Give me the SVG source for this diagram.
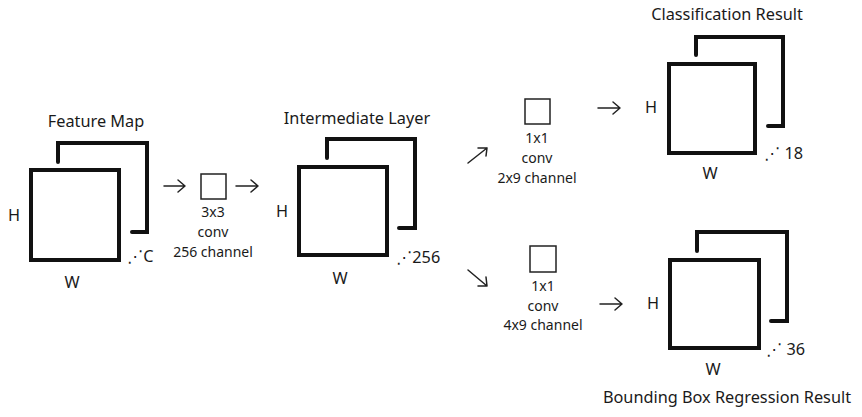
<svg xmlns="http://www.w3.org/2000/svg" width="862" height="417" viewBox="0 0 862 417">
<style>
text{font-family:"Noto Sans","DejaVu Sans",sans-serif;fill:#1a1a1a}
.t{font-size:16.3px}
.s{font-size:14px}
.c{text-anchor:middle}
.big{fill:none;stroke:#111;stroke-width:4;stroke-linejoin:miter;stroke-linecap:round}
.sm{fill:#fff;stroke:#222;stroke-width:1.5}
.ar{fill:none;stroke:#222;stroke-width:1.5;stroke-linecap:round;stroke-linejoin:round}
</style>
<rect width="862" height="417" fill="#fff"/>
<g id="feature-map">
<path class="big" d="M58,162V143H147V232H132"/>
<rect class="big" x="31" y="170" width="88" height="90"/>
<text class="t c" x="96" y="127">Feature Map</text>
<text class="t" x="8" y="221">H</text>
<text class="t c" x="72" y="288">W</text>
<text class="t" x="127" y="262">⋰C</text>
</g>
<g id="conv3x3">
<rect class="sm" x="201" y="174" width="25" height="25"/>
<text class="s c" x="213" y="217">3x3</text>
<text class="s c" x="213" y="237">conv</text>
<text class="s c" x="213" y="257">256 channel</text>
</g>
<g id="intermediate-layer">
<path class="big" d="M327,158V139H415V228H399"/>
<rect class="big" x="299" y="167" width="88" height="88"/>
<text class="t c" x="357" y="124">Intermediate Layer</text>
<text class="t" x="276" y="217">H</text>
<text class="t c" x="340" y="284">W</text>
<text class="t" x="396" y="263">⋰256</text>
</g>
<g id="conv1x1-cls">
<rect class="sm" x="525" y="99" width="25" height="25"/>
<text class="s c" x="537" y="143">1x1</text>
<text class="s c" x="537" y="163">conv</text>
<text class="s c" x="537" y="183">2x9 channel</text>
</g>
<g id="conv1x1-reg">
<rect class="sm" x="530" y="246" width="26" height="26"/>
<text class="s c" x="543" y="291">1x1</text>
<text class="s c" x="543" y="311">conv</text>
<text class="s c" x="543" y="330">4x9 channel</text>
</g>
<g id="classification-result">
<path class="big" d="M696,55V37H783V126H768"/>
<rect class="big" x="669" y="64" width="86" height="89"/>
<text class="t c" x="727" y="20">Classification Result</text>
<text class="t" x="645" y="113">H</text>
<text class="t c" x="710" y="179">W</text>
<text class="t" x="764" y="159">⋰ 18</text>
</g>
<g id="bbox-result">
<path class="big" d="M697,251V232H787V321H771"/>
<rect class="big" x="670" y="260" width="89" height="88"/>
<text class="t c" x="727" y="403">Bounding Box Regression Result</text>
<text class="t" x="647" y="309">H</text>
<text class="t c" x="713" y="375">W</text>
<text class="t" x="766" y="355">⋰ 36</text>
</g>
<g id="connectors">
<path class="ar" d="M164,186H185M178,180L185,186L178,192"/>
<path class="ar" d="M236,186H258M251,180L258,186L251,192"/>
<path class="ar" d="M468,163L487,148M478,148L487,148L486,156"/>
<path class="ar" d="M468,270L487,286M486,277L487,286L478,286"/>
<path class="ar" d="M598,108H620M613,102L620,108L613,114"/>
<path class="ar" d="M600,304H622M615,298L622,304L615,310"/>
</g>
</svg>
